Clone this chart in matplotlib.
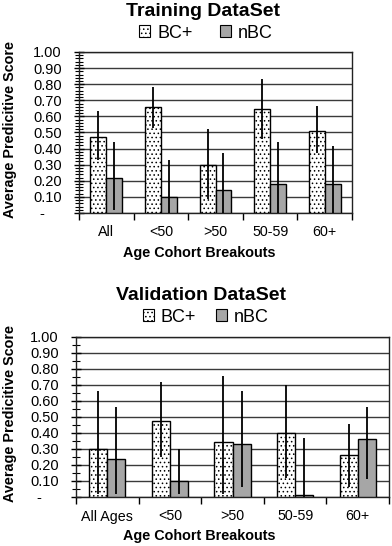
import matplotlib
matplotlib.use("Agg")
import matplotlib.pyplot as plt
import numpy as np
from matplotlib.patches import Patch
from matplotlib.ticker import MultipleLocator, FixedLocator

plt.rcParams['font.family'] = ['Liberation Sans', 'DejaVu Sans']
plt.rcParams['hatch.linewidth'] = 0.6

# ---- data ----
train_categories = ["All", "<50", ">50", "50-59", "60+"]
train_bc = [0.47, 0.66, 0.30, 0.645, 0.51]
train_bc_lo = [0.33, 0.53, 0.09, 0.46, 0.37]
train_bc_hi = [0.635, 0.785, 0.52, 0.83, 0.665]
train_nbc = [0.215, 0.10, 0.14, 0.18, 0.18]
train_nbc_lo = [0.02, 0.0, 0.0, 0.0, 0.0]
train_nbc_hi = [0.44, 0.33, 0.37, 0.44, 0.415]

val_categories = ["All Ages", "<50", ">50", "50-59", "60+"]
val_bc = [0.30, 0.475, 0.345, 0.40, 0.26]
val_bc_lo = [0.02, 0.25, 0.02, 0.12, 0.06]
val_bc_hi = [0.66, 0.72, 0.755, 0.70, 0.455]
val_nbc = [0.24, 0.10, 0.33, 0.015, 0.36]
val_nbc_lo = [0.02, 0.02, 0.06, 0.0, 0.11]
val_nbc_hi = [0.56, 0.30, 0.66, 0.37, 0.56]

ytick_vals = [0.0, 0.1, 0.2, 0.3, 0.4, 0.5, 0.6, 0.7, 0.8, 0.9, 1.0]
ytick_labels = ["-    ", "0.10", "0.20", "0.30", "0.40", "0.50", "0.60", "0.70", "0.80", "0.90", "1.00"]

W, H = 392, 546
fig = plt.figure(figsize=(W / 100, H / 100), dpi=100)

def rect(x0, x1, y_top, y_bot):
    return [x0 / W, 1 - y_bot / H, (x1 - x0) / W, (y_bot - y_top) / H]

BC_FACE = "white"
NBC_FACE = "#a6a6a6"

def draw(ax, cats, bc, bc_lo, bc_hi, nbc, nbc_lo, nbc_hi, minor_step):
    n = len(cats)
    x = np.arange(n)
    w = 0.29
    ax.bar(x - w / 2, bc, w, facecolor=BC_FACE, edgecolor="black", hatch="....", linewidth=1.0, zorder=3)
    ax.bar(x + w / 2, nbc, w, facecolor=NBC_FACE, edgecolor="black", linewidth=1.0, zorder=3)
    ax.vlines(x - w / 2, bc_lo, bc_hi, color="black", linewidth=1.3, zorder=4)
    ax.vlines(x + w / 2, nbc_lo, nbc_hi, color="black", linewidth=1.3, zorder=4)
    ax.set_xlim(-0.5, n - 0.5)
    ax.set_ylim(0, 1.0)
    ax.set_yticks(ytick_vals)
    ax.set_yticklabels(ytick_labels)
    ax.yaxis.set_minor_locator(MultipleLocator(minor_step))
    ax.tick_params(axis="y", which="major", direction="inout", length=7, width=1.0, labelsize=10.5, pad=9)
    ax.tick_params(axis="y", which="minor", direction="inout", length=6, width=0.8)
    # x ticks at category boundaries, labels at centers
    ax.xaxis.set_major_locator(FixedLocator(np.arange(n + 1) - 0.5))
    ax.set_xticklabels([])
    ax.xaxis.set_minor_locator(FixedLocator(x))
    ax.set_xticklabels(cats, minor=True)
    ax.tick_params(axis="x", which="major", direction="out", length=5, width=1.0)
    ax.tick_params(axis="x", which="minor", length=0, labelsize=10.3, pad=9)
    ax.grid(axis="y", which="major", color="#3a3a3a", linewidth=1.0, zorder=0)
    ax.set_axisbelow(True)
    for s in ax.spines.values():
        s.set_linewidth(1.0)
        s.set_color("#222222")

ax1 = fig.add_axes(rect(79, 352, 52, 213))
draw(ax1, train_categories, train_bc, train_bc_lo, train_bc_hi,
     train_nbc, train_nbc_lo, train_nbc_hi, 0.02)
ax2 = fig.add_axes(rect(76, 389, 337, 497))
draw(ax2, val_categories, val_bc, val_bc_lo, val_bc_hi,
     val_nbc, val_nbc_lo, val_nbc_hi, 0.05)

def ft(x, y, s, **kw):
    fig.text(x / W, 1 - y / H, s, **kw)

ft(203, 11, "Training DataSet", fontsize=14, fontweight="bold", ha="center", va="center")
ft(201, 295, "Validation DataSet", fontsize=14, fontweight="bold", ha="center", va="center")
ft(199, 253, "Age Cohort Breakouts", fontsize=10.4, fontweight="bold", ha="center", va="center")
ft(199, 536, "Age Cohort Breakouts", fontsize=10.4, fontweight="bold", ha="center", va="center")
ft(10, 129, "Average Predicitive Score", fontsize=10.4, fontweight="bold", ha="center", va="center", rotation=90)
ft(10, 413, "Average Predicitive Score", fontsize=10.4, fontweight="bold", ha="center", va="center", rotation=90)

handles = [Patch(facecolor=BC_FACE, edgecolor="black", hatch="....", linewidth=0.8, label="BC+"),
           Patch(facecolor=NBC_FACE, edgecolor="black", linewidth=0.8, label="nBC")]
fig.legend(handles=handles, loc="center", bbox_to_anchor=(206 / W, 1 - 33 / H), ncol=2, frameon=False,
           fontsize=13, handlelength=0.6, handleheight=0.6, handletextpad=0.4, columnspacing=1.5,
           borderpad=0)
fig.legend(handles=handles, loc="center", bbox_to_anchor=(206 / W, 1 - 317 / H), ncol=2, frameon=False,
           fontsize=13, handlelength=0.6, handleheight=0.6, handletextpad=0.4, columnspacing=1.1,
           borderpad=0)

fig.savefig("out.png", dpi=100)
